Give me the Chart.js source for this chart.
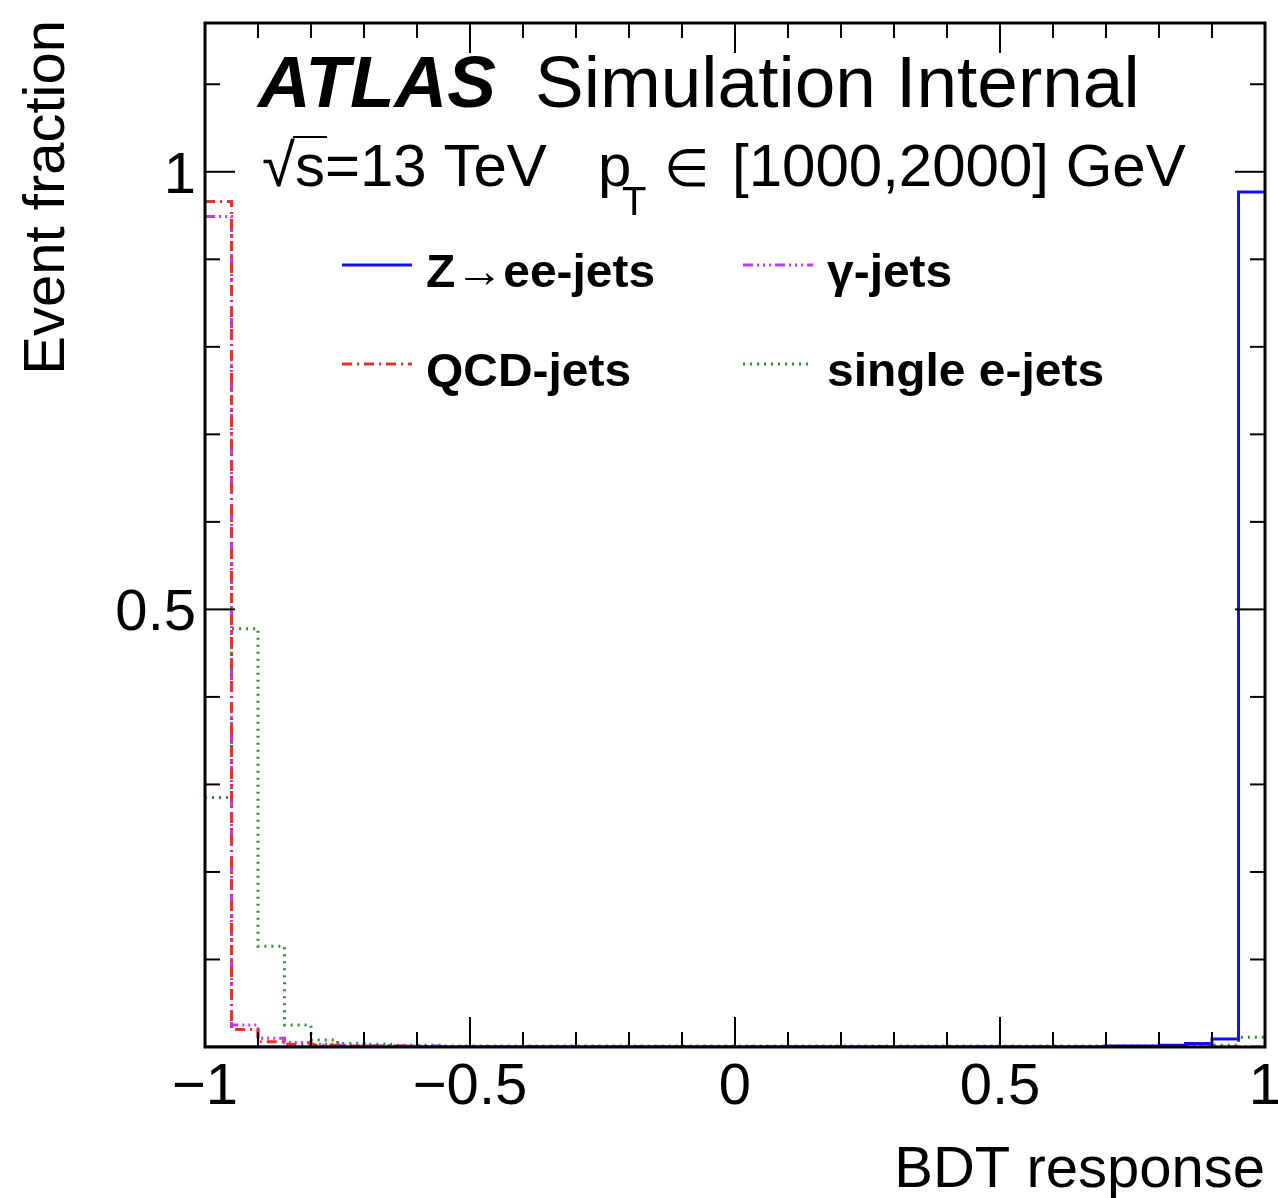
<!DOCTYPE html>
<html>
<head>
<meta charset="utf-8">
<script src="https://cdn.jsdelivr.net/npm/chart.js@4.4.0/dist/chart.umd.min.js"></script>
<style>
  body { margin: 0; background: #fff; }
  #wrap { width: 1278px; height: 1198px; }
</style>
</head>
<body>
<div id="wrap"><canvas id="bdtChart" width="1278" height="1198"></canvas></div>
<script>
// Bin edges of the BDT response histogram (40 bins of 0.05)
const binEdges = [
  -1.00, -0.95, -0.90, -0.85, -0.80, -0.75, -0.70, -0.65, -0.60, -0.55,
  -0.50, -0.45, -0.40, -0.35, -0.30, -0.25, -0.20, -0.15, -0.10, -0.05,
   0.00,  0.05,  0.10,  0.15,  0.20,  0.25,  0.30,  0.35,  0.40,  0.45,
   0.50,  0.55,  0.60,  0.65,  0.70,  0.75,  0.80,  0.85,  0.90,  0.95,
   1.00
];

// Event fraction per bin
const zeeJets = [
  0.000, 0.000, 0.000, 0.000, 0.000, 0.000, 0.000, 0.000, 0.000, 0.000,
  0.000, 0.000, 0.000, 0.000, 0.000, 0.000, 0.000, 0.000, 0.000, 0.000,
  0.000, 0.000, 0.000, 0.000, 0.000, 0.000, 0.000, 0.000, 0.000, 0.000,
  0.000, 0.000, 0.000, 0.000, 0.001, 0.001, 0.002, 0.004, 0.009, 0.977
];
const qcdJets = [
  0.966, 0.020, 0.006, 0.003, 0.002, 0.001, 0.001, 0.001, 0.000, 0.000,
  0.000, 0.000, 0.000, 0.000, 0.000, 0.000, 0.000, 0.000, 0.000, 0.000,
  0.000, 0.000, 0.000, 0.000, 0.000, 0.000, 0.000, 0.000, 0.000, 0.000,
  0.000, 0.000, 0.000, 0.000, 0.000, 0.000, 0.000, 0.000, 0.000, 0.000
];
const gammaJets = [
  0.949, 0.025, 0.010, 0.005, 0.003, 0.002, 0.001, 0.001, 0.001, 0.000,
  0.000, 0.000, 0.000, 0.000, 0.000, 0.000, 0.000, 0.000, 0.000, 0.000,
  0.000, 0.000, 0.000, 0.000, 0.000, 0.000, 0.000, 0.000, 0.000, 0.000,
  0.000, 0.000, 0.000, 0.000, 0.000, 0.000, 0.000, 0.000, 0.000, 0.000
];
const singleEJets = [
  0.285, 0.478, 0.115, 0.025, 0.008, 0.004, 0.003, 0.002, 0.002, 0.001,
  0.001, 0.001, 0.001, 0.001, 0.001, 0.001, 0.001, 0.001, 0.001, 0.001,
  0.001, 0.001, 0.001, 0.001, 0.001, 0.001, 0.001, 0.001, 0.001, 0.001,
  0.001, 0.001, 0.001, 0.001, 0.001, 0.001, 0.001, 0.001, 0.002, 0.011
];

// Axis ticks
const xMajorTicks = [-1, -0.5, 0, 0.5, 1];
const xTickLabels = ["\u22121", "\u22120.5", "0", "0.5", "1"];
const xMinorTicks = [-0.9, -0.8, -0.7, -0.6, -0.4, -0.3, -0.2, -0.1, 0.1, 0.2, 0.3, 0.4, 0.6, 0.7, 0.8, 0.9];
const yMajorTicks = [0.5, 1];
const yTickLabels = ["0.5", "1"];
const yMinorTicks = [0.1, 0.2, 0.3, 0.4, 0.6, 0.7, 0.8, 0.9, 1.1];

const FONT = '"Liberation Sans", Arial, Helvetica, sans-serif';

// Histogram outline: one point per lower edge, plus the last upper edge
function histPoints(values) {
  const pts = values.map((v, i) => ({ x: binEdges[i], y: v }));
  pts.push({ x: binEdges[binEdges.length - 1], y: values[values.length - 1] });
  return pts;
}

const series = [
  { label: "Z\u2192ee-jets", data: zeeJets, color: "#1010f0", dash: [] },
  { label: "QCD-jets", data: qcdJets, color: "#e8302c", dash: [10, 5, 2, 5] },
  { label: "\u03b3-jets", data: gammaJets, color: "#c23bf0", dash: [10, 4, 2, 4, 2, 4, 2, 4] },
  { label: "single e-jets", data: singleEJets, color: "#2f8a35", dash: [2, 5] },
];

function line(ctx, x1, y1, x2, y2) {
  ctx.beginPath();
  ctx.moveTo(x1, y1);
  ctx.lineTo(x2, y2);
  ctx.stroke();
}

// Frame, inward ticks, labels, ATLAS text and legend
const atlasDecor = {
  id: "atlasDecor",
  afterDatasetsDraw(chart) {
    const { ctx, chartArea: a, scales: { x, y } } = chart;
    ctx.save();
    ctx.setLineDash([]);
    ctx.strokeStyle = "#000";

    // ticks
    ctx.lineWidth = 2;
    xMajorTicks.forEach((v) => {
      const px = x.getPixelForValue(v);
      line(ctx, px, a.bottom, px, a.bottom - 30);
      line(ctx, px, a.top, px, a.top + 30);
    });
    xMinorTicks.forEach((v) => {
      const px = x.getPixelForValue(v);
      line(ctx, px, a.bottom, px, a.bottom - 15);
      line(ctx, px, a.top, px, a.top + 15);
    });
    yMajorTicks.forEach((v) => {
      const py = y.getPixelForValue(v);
      line(ctx, a.left, py, a.left + 30, py);
      line(ctx, a.right, py, a.right - 30, py);
    });
    yMinorTicks.forEach((v) => {
      const py = y.getPixelForValue(v);
      line(ctx, a.left, py, a.left + 15, py);
      line(ctx, a.right, py, a.right - 15, py);
    });

    // frame
    ctx.lineWidth = 3;
    ctx.strokeRect(a.left, a.top, a.right - a.left, a.bottom - a.top);

    // tick labels
    ctx.fillStyle = "#000";
    ctx.font = "58px " + FONT;
    ctx.textBaseline = "alphabetic";
    ctx.textAlign = "center";
    xMajorTicks.forEach((v, i) => {
      ctx.fillText(xTickLabels[i], x.getPixelForValue(v), 1104);
    });
    ctx.textAlign = "right";
    yMajorTicks.forEach((v, i) => {
      ctx.fillText(yTickLabels[i], 196, y.getPixelForValue(v) + 21);
    });

    // axis titles
    ctx.fillText("BDT response", a.right, 1187);
    ctx.save();
    ctx.translate(64, 20);
    ctx.rotate(-Math.PI / 2);
    ctx.fillText("Event fraction", 0, 0);
    ctx.restore();

    // ATLAS label
    ctx.textAlign = "left";
    ctx.font = "italic bold 73px " + FONT;
    ctx.fillText("ATLAS", 258, 107);
    ctx.font = "73px " + FONT;
    ctx.fillText("Simulation Internal", 535, 107);

    ctx.font = "60px " + FONT;
    const rootW = ctx.measureText("\u221a").width;
    const sW = ctx.measureText("s").width;
    ctx.fillText("\u221as=13 TeV", 262, 186);
    ctx.lineWidth = 2;
    line(ctx, 262 + rootW - 2, 137, 262 + rootW + sW + 2, 137);
    ctx.fillText("p", 598, 186);
    ctx.font = "40px " + FONT;
    ctx.fillText("T", 622, 215);
    ctx.font = "52px " + FONT;
    ctx.fillText("\u2208", 664, 186);
    ctx.font = "60px " + FONT;
    ctx.fillText("[1000,2000] GeV", 732, 186);

    // legend: two columns, two rows
    const cols = [342, 743];
    const rows = [287, 386];
    series.forEach((s, i) => {
      const bx = cols[i === 0 || i === 1 ? 0 : 1];
      const by = rows[i === 0 || i === 2 ? 0 : 1];
      ctx.strokeStyle = s.color;
      ctx.lineWidth = 3;
      ctx.setLineDash(s.dash);
      line(ctx, bx, by - 22, bx + 70, by - 22);
      ctx.setLineDash([]);
      ctx.save();
      ctx.translate(bx + 84, by);
      ctx.scale(1.02, 1);
      ctx.font = "bold 47px " + FONT;
      ctx.fillStyle = "#000";
      ctx.fillText(s.label, 0, 0);
      ctx.restore();
    });
    ctx.restore();
  },
};

document.addEventListener("DOMContentLoaded", () => {
  const ctx = document.getElementById("bdtChart").getContext("2d");
  new Chart(ctx, {
    type: "line",
    data: {
      datasets: series.map((s) => ({
        label: s.label,
        data: histPoints(s.data),
        borderColor: s.color,
        borderWidth: 3,
        borderDash: s.dash,
        stepped: true,
        pointRadius: 0,
        fill: false,
        tension: 0,
      })),
    },
    options: {
      responsive: false,
      animation: false,
      layout: { padding: { left: 205, right: 13, top: 23, bottom: 151 } },
      plugins: { legend: { display: false }, tooltip: { enabled: false } },
      scales: {
        x: { type: "linear", min: -1, max: 1, display: false },
        y: { type: "linear", min: 0, max: 1.17, display: false },
      },
    },
    plugins: [atlasDecor],
  });
});
</script>
</body>
</html>
